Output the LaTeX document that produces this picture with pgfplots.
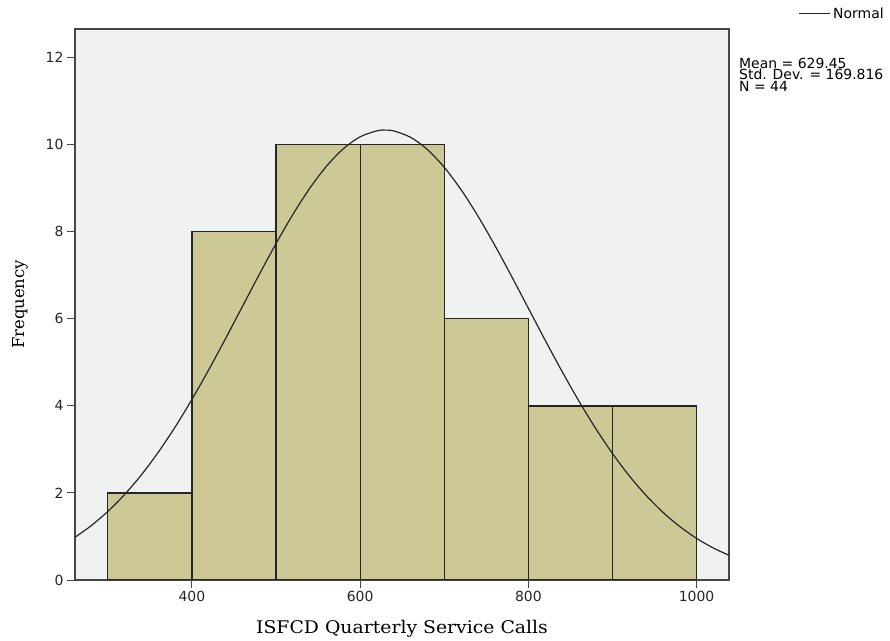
\documentclass[border=0pt]{standalone}
\usepackage{fontspec}
\usepackage{pgfplots}
\pgfplotsset{compat=1.18}
\setmainfont{DejaVu Sans}
\newfontfamily\dvserif{DejaVu Serif}
\newfontfamily\dvserifwide[FakeStretch=1.08]{DejaVu Serif}
\definecolor{barcol}{RGB}{204,201,151}
\definecolor{bgcol}{RGB}{240,241,241}
\definecolor{framecol}{RGB}{70,70,70}
\begin{document}
\begin{tikzpicture}
\path[use as bounding box] (0bp,0bp) rectangle (890bp,641bp);
\begin{axis}[
  at={(75bp,61bp)}, anchor=south west,
  scale only axis, width=654bp, height=551bp,
  xmin=261, xmax=1038.5, ymin=0, ymax=12.66,
  xtick={400,600,800,1000}, ytick={0,2,4,6,8,10,12},
  xtick pos=bottom, ytick pos=left,
  tick align=outside, major tick length=8bp,
  tick style={draw=framecol, line width=1pt},
  axis line style={draw=framecol, line width=1.3pt},
  axis background/.style={fill=bgcol},
  tick label style={font=\fontsize{14}{16}\selectfont, text=black!85},
  /pgf/number format/assume math mode=true,
  /pgf/number format/1000 sep={},
  xlabel={ISFCD Quarterly Service Calls},
  ylabel={Frequency},
  xlabel style={font=\dvserifwide\fontsize{17.5}{19}\selectfont,
    at={(axis description cs:0.5,0)}, anchor=center, yshift=-48.7bp},
  ylabel style={font=\dvserif\fontsize{16.5}{18}\selectfont,
    at={(axis description cs:0,0.5)}, anchor=center, yshift=55bp},
  clip=true,
]
% frequency counts per 100-call bin
\addplot[ybar interval, fill=barcol, draw=black!85, line width=1.2pt]
  coordinates {(300,2) (400,8) (500,10) (600,10) (700,6) (800,4) (900,4) (1000,4)};
% fitted normal density, scaled to counts (mean 629.45, sd 169.816, N 44, bin 100)
\addplot[black!85, line width=1.2pt, smooth] coordinates {
  (261,0.982) (280,1.244) (300,1.575) (320,1.965) (340,2.418) (360,2.936)
  (380,3.514) (400,4.149) (420,4.831) (440,5.548) (460,6.283) (480,7.018)
  (500,7.731) (520,8.398) (540,8.998) (560,9.508) (580,9.908) (600,10.183)
  (620,10.321) (629.45,10.337) (640,10.317) (660,10.171) (680,9.889)
  (700,9.482) (720,8.967) (740,8.363) (760,7.692) (780,6.978) (800,6.243)
  (820,5.508) (840,4.793) (860,4.113) (880,3.481) (900,2.905) (920,2.392)
  (940,1.942) (960,1.554) (980,1.228) (1000,0.956) (1020,0.734) (1038.5,0.568)};
\end{axis}
% legend entry
\draw[black!85, line width=1.1pt] (799bp,627.7bp) -- (830bp,627.7bp);
\node[anchor=west, inner sep=0pt, font=\fontsize{14}{16}\selectfont] at (833bp,627.7bp) {Normal};
% summary statistics
\begin{scope}[every node/.style={anchor=base west, inner sep=0pt,
    text height=10.2bp, text depth=0pt, font=\fontsize{14}{16}\selectfont}]
\node at (739bp,572.7bp) {Mean = 629.45};
\node at (739bp,561bp) {Std. Dev. = 169.816};
\node at (739bp,549.3bp) {N = 44};
\end{scope}
\end{tikzpicture}
\end{document}
